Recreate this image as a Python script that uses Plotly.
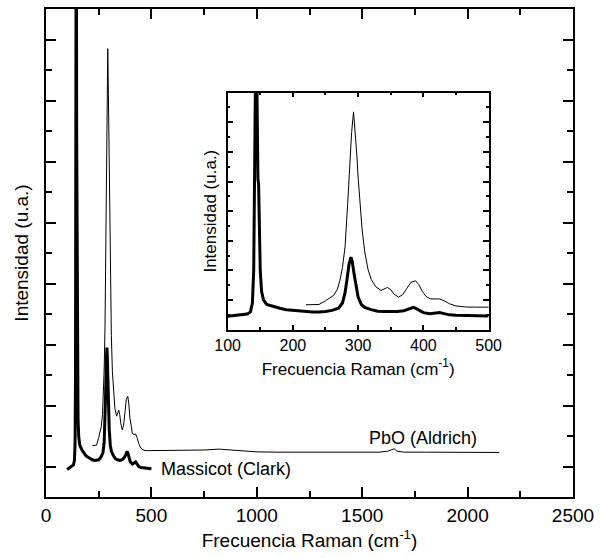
import plotly.graph_objects as go

# ---- data ----
massicot_x = [100, 110, 120, 130, 135, 138, 140, 141.5, 142.5, 143.5, 144.5, 145.5, 146.5, 147.5,
              148.5, 150, 152, 155, 160, 170, 180, 190, 200, 210, 220, 230, 240, 250, 260, 270,
              276, 280, 283, 286, 289, 291, 294, 297, 300, 305, 310, 320, 330, 340, 350, 360,
              370, 378, 385, 390, 395, 400, 410, 420, 425, 430, 440, 450, 460, 480, 500]
massicot_y = [0.9, 0.95, 1.0, 1.05, 1.2, 1.8, 4.0, 9.0, 16.0, 22.0, 17.0, 12.0, 10.2, 9.8,
              7.0, 4.0, 2.6, 2.0, 1.7, 1.55, 1.45, 1.35, 1.3, 1.25, 1.22, 1.2, 1.2, 1.22, 1.3, 1.45,
              1.8, 2.5, 3.4, 4.4, 4.9, 4.6, 3.7, 2.8, 2.2, 1.7, 1.5, 1.35, 1.25, 1.22, 1.2, 1.22,
              1.28, 1.38, 1.5, 1.4, 1.25, 1.15, 1.08, 1.12, 1.15, 1.1, 1.0, 0.97, 0.96, 0.94, 0.93]

pbo_x = [220, 230, 240, 250, 255, 262, 268, 272, 276, 280, 284, 287, 290, 293, 296, 298, 300,
         303, 306, 310, 315, 320, 327, 335, 340, 345, 350, 355, 362, 368, 375, 381, 388, 393,
         398, 404, 410, 418, 425, 432, 440, 450, 465, 480, 500, 550, 650, 750, 820, 880, 950,
         1000, 1100, 1200, 1300, 1400, 1500, 1580, 1620, 1640, 1652, 1665, 1700, 1800, 1900,
         2000, 2100, 2150]
pbo_y = [1.68, 1.68, 1.7, 1.95, 2.1, 2.3, 2.7, 3.3, 4.2, 5.6, 8.5, 11.0, 13.3, 14.7, 13.2, 11.8, 10.3,
         8.6, 6.8, 5.3, 4.1, 3.4, 2.9, 2.65, 2.75, 2.85, 2.7, 2.4, 2.2, 2.35, 2.8, 3.2, 3.3, 3.05,
         2.6, 2.25, 2.08, 2.05, 2.07, 1.95, 1.75, 1.6, 1.53, 1.52, 1.52, 1.54, 1.54, 1.54, 1.57, 1.54, 1.5,
         1.48, 1.47, 1.47, 1.48, 1.47, 1.47, 1.47, 1.5, 1.55, 1.58, 1.5, 1.47, 1.47, 1.47,
         1.46, 1.46, 1.46]

FONT = "Liberation Sans, Arial, sans-serif"

fig = go.Figure()
for xa, ya in (("x", "y"), ("x2", "y2")):
    fig.add_trace(go.Scatter(x=pbo_x, y=pbo_y, mode="lines", xaxis=xa, yaxis=ya,
                             line=dict(color="black", width=1), showlegend=False, hoverinfo="skip"))
    fig.add_trace(go.Scatter(x=massicot_x, y=massicot_y, mode="lines", xaxis=xa, yaxis=ya,
                             line=dict(color="black", width=3), showlegend=False, hoverinfo="skip"))

common = dict(showline=True, linecolor="black", mirror="ticks", ticks="inside",
              tickcolor="black", showgrid=False, zeroline=False)

fig.update_layout(
    width=601, height=558,
    margin=dict(l=46, r=24, t=7, b=61),
    paper_bgcolor="white", plot_bgcolor="white",
    font=dict(family=FONT, color="black"),
    xaxis=dict(domain=[0, 1], range=[0, 2500], tick0=0, dtick=500, ticklen=10, tickwidth=2,
               linewidth=2, tickfont=dict(size=19),
               minor=dict(dtick=250, ticklen=6, tickwidth=2, ticks="inside", tickcolor="black"),
               title=dict(text="Frecuencia Raman (cm<sup>-1</sup>)", font=dict(size=19), standoff=9),
               **common),
    yaxis=dict(domain=[0, 1], range=[0, 16], tick0=1, dtick=2, ticklen=10, tickwidth=2,
               linewidth=2, showticklabels=False,
               minor=dict(dtick=1, tick0=0, ticklen=6, tickwidth=2, ticks="inside", tickcolor="black"),
               title=dict(text="Intensidad (u.a.)", font=dict(size=19), standoff=10),
               **common),
    xaxis2=dict(domain=[0.3446, 0.8399], anchor="y2", range=[100, 500], tick0=100, dtick=100,
                ticklen=5, tickwidth=1.5, linewidth=1.5, tickfont=dict(size=16),
                minor=dict(dtick=50, ticklen=3, tickwidth=1.5, ticks="inside", tickcolor="black"),
                title=dict(text="Frecuencia Raman (cm<sup>-1</sup>)", font=dict(size=17), standoff=10),
                **common),
    yaxis2=dict(domain=[0.3429, 0.8286], anchor="x2", range=[0, 16], tick0=0, dtick=2,
                ticklen=6, tickwidth=1.5, linewidth=1.5, showticklabels=False,
                minor=dict(dtick=1, ticklen=3, tickwidth=1.5, ticks="inside", tickcolor="black"),
                title=dict(text="Intensidad (u.a.)", font=dict(size=17), standoff=5),
                **common),
    annotations=[
        dict(x=537, y=0.92, xref="x", yref="y", text="Massicot (Clark)", showarrow=False,
             xanchor="left", yanchor="middle", font=dict(size=18, family=FONT)),
        dict(x=1525, y=1.93, xref="x", yref="y", text="PbO (Aldrich)", showarrow=False,
             xanchor="left", yanchor="middle", font=dict(size=18, family=FONT)),
    ],
)

fig.write_html("out.html")
